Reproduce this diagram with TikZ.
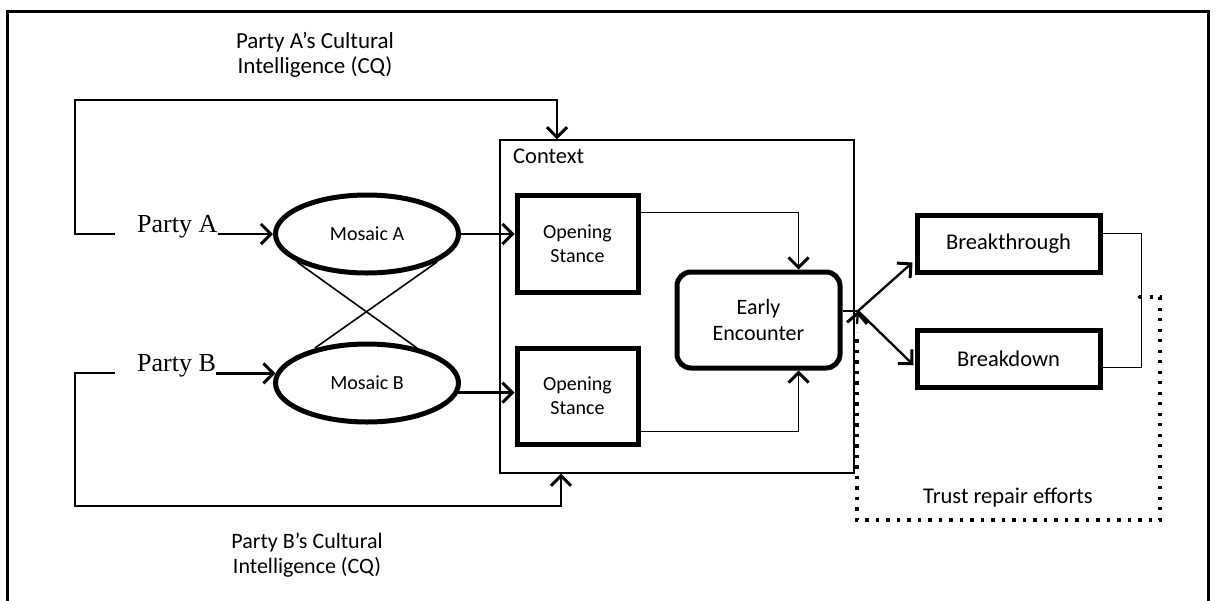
\documentclass[tikz,border=0pt]{standalone}
\usepackage{fontspec}
\setmainfont{Carlito}
\newfontfamily\tmsfont{Liberation Serif}
\usetikzlibrary{arrows.meta,shapes.geometric,calc}
\tikzset{
  arr/.style={-{Straight Barb[length=10pt,width=20pt,line width=3pt]}, line width=2.3pt},
  thickbox/.style={draw, rectangle, line width=5pt, align=center, font=\fontsize{20}{24}\selectfont},
  mosaic/.style={draw, ellipse, line width=5pt, minimum width=183pt, minimum height=78pt, inner sep=0pt, font=\fontsize{20}{22}\selectfont},
  thin/.style={line width=1.6pt},
  lbl/.style={align=center, inner sep=0pt},
  dots/.style={line width=3.2pt, dash pattern=on 3.2pt off 7.3pt},
}
\begin{document}
\begin{tikzpicture}[x=1pt,y=-1pt]
\useasboundingbox (0,0) rectangle (1215,600);
\draw[line width=3pt] (7,11) rectangle (1208,640);

% context box
\node[draw, line width=1.3pt, minimum width=354pt, minimum height=333pt, inner sep=0pt] (ctx) at (677,306.5) {};
\node[anchor=base west, inner sep=0pt, font=\fontsize{22.5}{24}\selectfont] (ctxl) at (513,163) {Context};

% labels
\node[lbl, font=\fontsize{23}{24.5}\selectfont] (cqa) at (315,55) {Party A’s Cultural\\Intelligence (CQ)};
\node[lbl, font=\fontsize{22}{24.5}\selectfont] (cqb) at (307,555) {Party B’s Cultural\\Intelligence (CQ)};

\node[anchor=base west, inner sep=0pt, font=\tmsfont\fontsize{26}{28}\selectfont] (pa) at (137,232) {Party A};
\node[anchor=base west, inner sep=0pt, font=\tmsfont\fontsize{26}{28}\selectfont] (pb) at (137,371) {Party B};

% mosaics
\node[mosaic] (mosA) at (367,234) {Mosaic A};
\node[mosaic] (mosB) at (367,383) {Mosaic B};

% opening stances
\node[thickbox, minimum width=121pt, minimum height=97pt] (os1) at (577.5,243.5) {Opening\\Stance};
\node[thickbox, minimum width=121pt, minimum height=96pt] (os2) at (577.5,396) {Opening\\Stance};

% early encounter
\node[thickbox, rounded corners=14pt, minimum width=163pt, minimum height=96pt, font=\fontsize{22}{26}\selectfont] (ee) at (758.5,320) {Early\\Encounter};

% outcomes
\node[thickbox, minimum width=183pt, minimum height=57pt, font=\fontsize{22.5}{24}\selectfont] (bt) at (1008.5,243.5) {Breakthrough};
\node[thickbox, minimum width=183pt, minimum height=57pt, font=\fontsize{22.5}{24}\selectfont] (bd) at (1008.5,358.5) {Breakdown};

\node[anchor=base, inner sep=0pt, font=\fontsize{22.5}{24}\selectfont] (tre) at (1008,503) {Trust repair efforts};

\coordinate (ta) at (115,234);
\coordinate (tb) at (115,373);
\coordinate (J) at (858,311);
\coordinate (K) at (1139,297);

% party arrows
\draw[arr] (mosA.west -| pa.east) -- (mosA.west);
\draw[arr] (mosB.174 -| pb.east) -- (mosB.174);

% cross lines
\draw[thin] ($(mosA.center)+(-70,28)$) -- ($(mosB.center)+(50,-35)$);
\draw[thin] ($(mosA.center)+(70,28)$) -- ($(mosB.center)+(-52,-35)$);

% mosaic to opening stance
\draw[arr] (mosA.east) -- (mosA.east -| os1.west);
\draw[arr] (mosB.-6) -- (mosB.-6 -| os2.west);

% opening stance to early encounter
\draw[arr, line width=1.9pt] ($(os1.north east)+(0,20)$) -| ([xshift=40pt]ee.north);
\draw[arr, line width=1.9pt] ($(os2.south east)+(0,-15)$) -| ([xshift=40pt]ee.south);

% CQ loops
\draw[arr, line width=1.9pt] (ta) -| (75,100) -| ([xshift=-120pt]ctx.north);
\draw[arr, line width=1.9pt] (tb) -| (75,506) -| ([xshift=-116pt]ctx.south);

% early encounter to outcomes
\draw[thin] (J -| ee.east) -- (J);
\draw[arr] (J) -- ($(bt.south west)+(-2,-12)$);
\draw[arr] (J) -- ($(bd.west)+(-1,6.5)$);

% outcome connector
\draw[thin] ($(bt.east)+(0,-10)$) -- ++(39,0) |- ($(bd.east)+(0,9)$);
\fill (K) circle (1.7pt);

% trust repair loop
\draw[dots] (K) -- (1160,297) -- (1160,520) -- (857,520) -- (857,332);
\draw[arr] (857,324) -- (J);
\end{tikzpicture}
\end{document}
